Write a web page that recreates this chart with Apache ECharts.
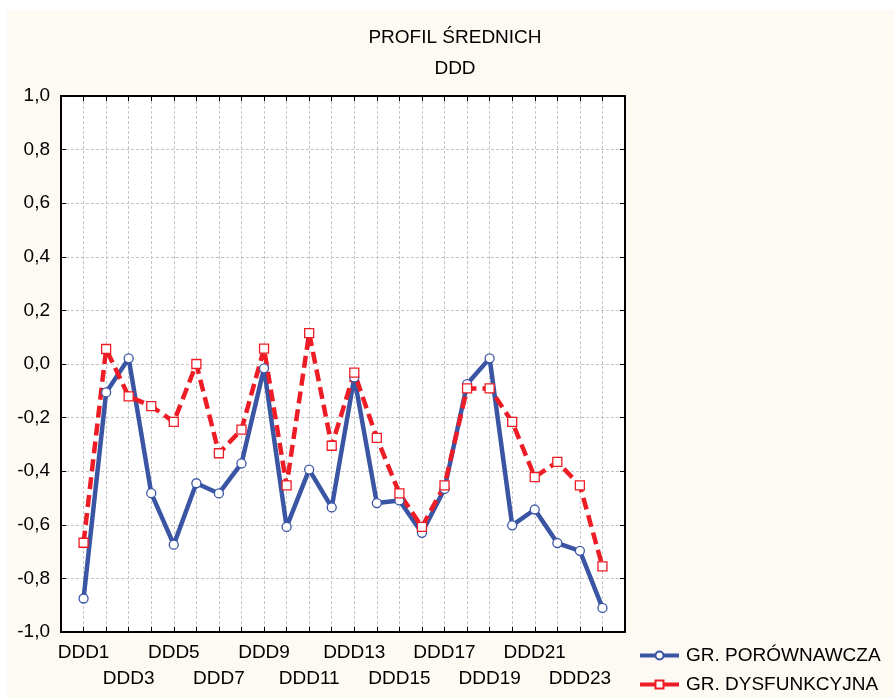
<!DOCTYPE html>
<html>
<head>
<meta charset="utf-8">
<script src="https://cdn.jsdelivr.net/npm/echarts@6/dist/echarts.min.js"></script>
<style>
html,body{margin:0;padding:0;background:#fff;}
#c{width:894px;height:698px;}
</style>
</head>
<body>
<div id="c"></div>
<script>
const categories = ['DDD1','DDD2','DDD3','DDD4','DDD5','DDD6','DDD7','DDD8','DDD9','DDD10','DDD11','DDD12','DDD13','DDD14','DDD15','DDD16','DDD17','DDD18','DDD19','DDD20','DDD21','DDD22','DDD23','DDD24'];
const seriesNames = ['GR. PORÓWNAWCZA', 'GR. DYSFUNKCYJNA'];
const porownawcza = [-0.875, -0.106, 0.021, -0.482, -0.674, -0.445, -0.483, -0.371, -0.016, -0.608, -0.394, -0.535, -0.05, -0.519, -0.509, -0.63, -0.466, -0.075, 0.021, -0.602, -0.543, -0.668, -0.697, -0.91];
const dysfunkcyjna = [-0.667, 0.056, -0.121, -0.157, -0.216, 0.0, -0.333, -0.245, 0.057, -0.453, 0.115, -0.305, -0.032, -0.276, -0.483, -0.608, -0.453, -0.091, -0.091, -0.216, -0.422, -0.365, -0.453, -0.755];
const titleLines = ['PROFIL ŚREDNICH', 'DDD'];

const FONT = '"Liberation Sans", Arial, sans-serif';
const toPts = arr => arr.map((v, i) => [i + 1, v]);

const chart = echarts.init(document.getElementById('c'), null, {renderer: 'canvas'});
const axisLine = {show: true, onZero: false, lineStyle: {color: '#000', width: 2}};
const tick = {show: true, inside: true, length: 5, lineStyle: {color: '#000', width: 1}};
const split = {show: true, lineStyle: {color: '#c4c4c4', width: 1, type: [3, 2]}};

chart.setOption({
  backgroundColor: '#fff',
  animation: false,
  graphic: {elements: [
    {type: 'rect', z: -100, shape: {x: 7, y: 10, width: 900, height: 700}, style: {fill: '#fdfaf3'}},
    {type: 'rect', z: -99, shape: {x: 61, y: 96, width: 564, height: 536}, style: {fill: '#ffffff'}}
  ]},
  title: [
    {text: titleLines[0], left: 455, top: 28, textAlign: 'center', padding: 0,
     textStyle: {fontFamily: FONT, fontSize: 19, fontWeight: 'normal', color: '#000'}},
    {text: titleLines[1], left: 455, top: 59, textAlign: 'center', padding: 0,
     textStyle: {fontFamily: FONT, fontSize: 19, fontWeight: 'normal', color: '#000'}}
  ],
  legend: {
    orient: 'vertical', left: 638, top: 646, padding: 0, itemWidth: 39, itemHeight: 10, itemGap: 10,
    data: [
      {name: seriesNames[0], lineStyle: {width: 4}},
      {name: seriesNames[1], lineStyle: {type: 'solid', width: 4}}
    ],
    textStyle: {fontFamily: FONT, fontSize: 19, color: '#000', padding: [0, 0, 0, 2]}
  },
  grid: {left: 61, right: 269, top: 96, bottom: 66, containLabel: false},
  xAxis: [
    {type: 'value', min: 0, max: 25, interval: 1, position: 'bottom',
     axisLine: axisLine, axisTick: tick, splitLine: split,
     axisLabel: {margin: 8, fontFamily: FONT, fontSize: 19, color: '#000', lineHeight: 26,
       formatter: function (val) {
         const i = Math.round(val);
         if (i < 1 || i > categories.length || i % 2 === 0) return '';
         const name = categories[i - 1];
         return ((i - 1) % 4 === 0) ? name : '\n' + name;
       }}},
    {type: 'value', min: 0, max: 25, interval: 1, position: 'top',
     axisLine: axisLine, axisTick: tick, splitLine: {show: false}, axisLabel: {show: false}}
  ],
  yAxis: [
    {type: 'value', min: -1, max: 1, interval: 0.2, position: 'left',
     axisLine: axisLine, axisTick: tick, splitLine: split,
     axisLabel: {margin: 11, fontFamily: FONT, fontSize: 19, color: '#000',
       formatter: v => v.toFixed(1).replace('.', ',')}},
    {type: 'value', min: -1, max: 1, interval: 0.2, position: 'right',
     axisLine: axisLine, axisTick: tick, splitLine: {show: false}, axisLabel: {show: false}}
  ],
  series: [
    {name: seriesNames[0], type: 'line', data: toPts(porownawcza),
     symbol: 'circle', symbolSize: 9,
     lineStyle: {color: '#3a55a4', width: 4.5},
     itemStyle: {color: '#ffffff', borderColor: '#3a55a4', borderWidth: 1.3}},
    {name: seriesNames[1], type: 'line', data: toPts(dysfunkcyjna),
     symbol: 'rect', symbolSize: 9,
     lineStyle: {color: '#ee1c25', width: 4.5, type: [12, 6]},
     itemStyle: {color: '#ffffff', borderColor: '#ee1c25', borderWidth: 1.3}}
  ]
});
</script>
</body>
</html>
